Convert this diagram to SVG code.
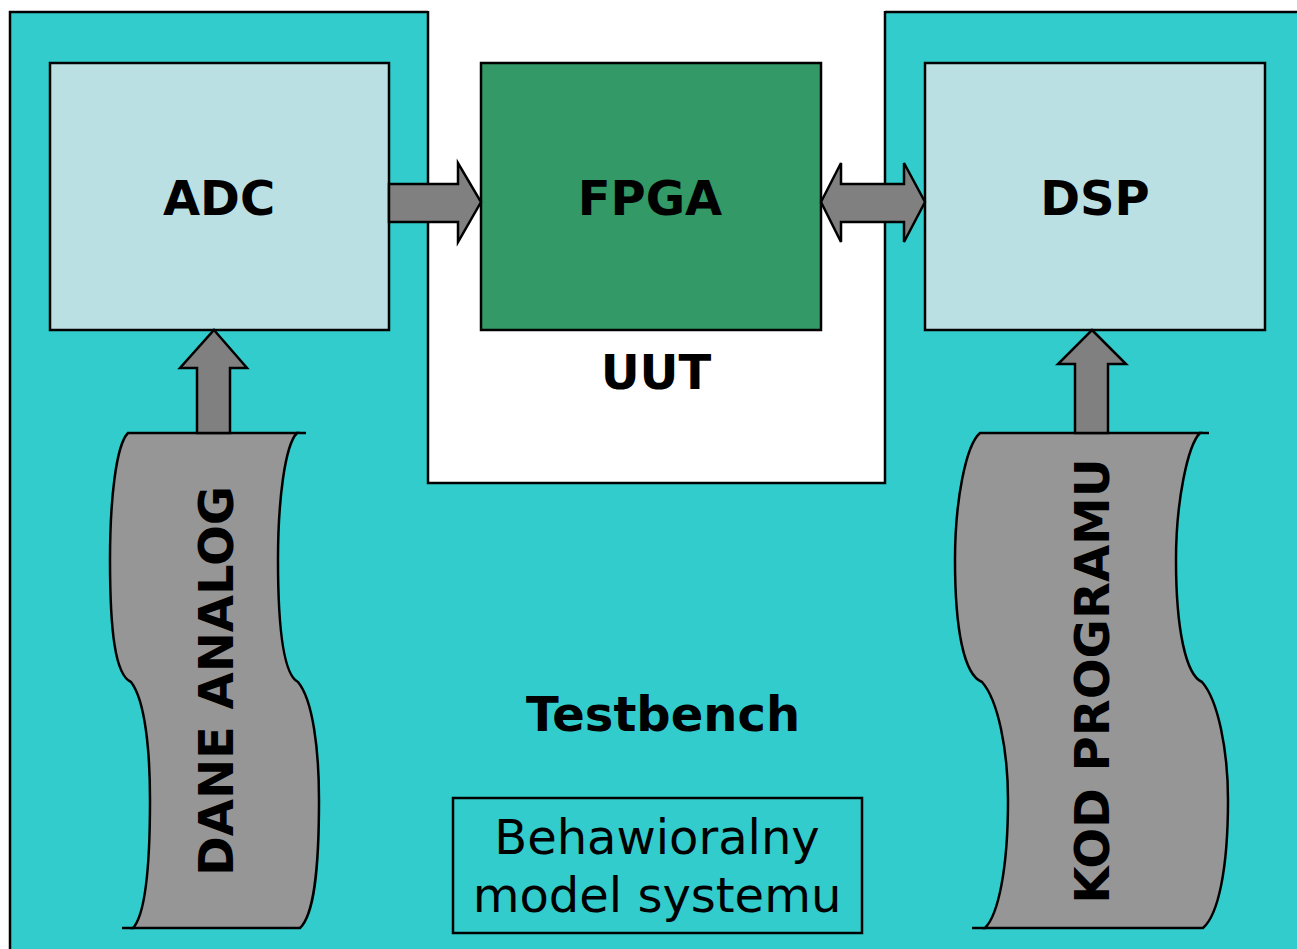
<svg xmlns="http://www.w3.org/2000/svg" width="1297" height="949" viewBox="0 0 1297 949">
  <style>
    .edge { stroke: #000; stroke-width: 2.5; stroke-linejoin: miter; }
    .block { fill: #BBE0E3; }
    .core { fill: #339966; }
    .tape { fill: #969696; }
    .arrow { fill: #808080; stroke: #000; stroke-width: 2.5; stroke-linejoin: miter; }
    .lbl { font-family: "DejaVu Sans", Verdana, "Liberation Sans", sans-serif; font-weight: bold; font-size: 48px; fill: #000; text-anchor: middle; }
    .note { font-family: "DejaVu Sans", Verdana, "Liberation Sans", sans-serif; font-size: 48px; fill: #000; text-anchor: middle; }
  </style>

  <rect width="1297" height="949" fill="#ffffff"/>

  <!-- testbench area with the unit-under-test cut-out -->
  <g id="testbench">
    <rect x="10" y="12" width="1300" height="950" fill="#33CCCC" class="edge"/>
    <text class="lbl" x="663" y="731">Testbench</text>
  </g>
  <g id="uut">
    <rect x="428" y="0" width="457" height="483" fill="#ffffff"/>
    <polyline class="edge" fill="none" points="428,11 428,483 885,483 885,11"/>
    <text class="lbl" x="656" y="389">UUT</text>
  </g>

  <g id="adc">
    <rect x="50" y="63" width="339" height="267" class="block edge"/>
    <text class="lbl" x="219" y="215">ADC</text>
  </g>

  <g id="fpga">
    <rect x="481" y="63" width="340" height="267" class="core edge"/>
    <text class="lbl" x="650" y="215">FPGA</text>
  </g>

  <g id="dsp">
    <rect x="925" y="63" width="340" height="267" class="block edge"/>
    <text class="lbl" x="1095" y="215">DSP</text>
  </g>

  <!-- punched-tape input: analog samples -->
  <g id="dane-analog">
    <path class="tape edge" d="M128,433 L297,433 C285,445 278,500 278,560 C278,630 284,675 298,682 C313,700 319,750 319,800 C319,870 314,915 300,928 L133,928 C145,915 150,870 150,800 C150,750 145,700 131,682 C115,675 110,630 110,560 C110,500 116,445 128,433 Z"/>
    <line class="edge" x1="296" y1="433" x2="306" y2="433"/>
    <line class="edge" x1="122" y1="928" x2="134" y2="928"/>
    <text class="lbl" transform="translate(233,681) rotate(-90)">DANE ANALOG</text>
  </g>

  <!-- punched-tape input: program code -->
  <g id="kod-programu">
    <path class="tape edge" d="M980,433 L1200,433 C1188,445 1176,500 1176,560 C1176,630 1186,675 1202,682 C1218,700 1228,750 1228,800 C1228,870 1218,915 1203,928 L985,928 C998,915 1008,870 1008,800 C1008,750 998,700 982,682 C964,675 955,630 955,560 C955,500 966,445 980,433 Z"/>
    <line class="edge" x1="1199" y1="433" x2="1209" y2="433"/>
    <line class="edge" x1="972" y1="928" x2="986" y2="928"/>
    <text class="lbl" transform="translate(1109,681) rotate(-90)">KOD PROGRAMU</text>
  </g>

  <g id="model">
    <rect x="453" y="798" width="409" height="135" fill="none" class="edge"/>
    <text class="note" x="657" y="854">Behawioralny</text>
    <text class="note" x="657" y="912">model systemu</text>
  </g>

  <!-- block arrows between the units -->
  <g id="connectors">
    <polygon class="arrow" points="389,184 458,184 458,163 481,202 458,242 458,222 389,222"/>
    <polygon class="arrow" points="821,202 841,163 841,184 904,184 904,163 925,202 904,242 904,222 841,222 841,242"/>
    <polygon class="arrow" points="214,330 247,368 230,368 230,433 197,433 197,368 180,368"/>
    <polygon class="arrow" points="1092,330 1126,364 1108,364 1108,433 1075,433 1075,364 1058,364"/>
  </g>
</svg>
